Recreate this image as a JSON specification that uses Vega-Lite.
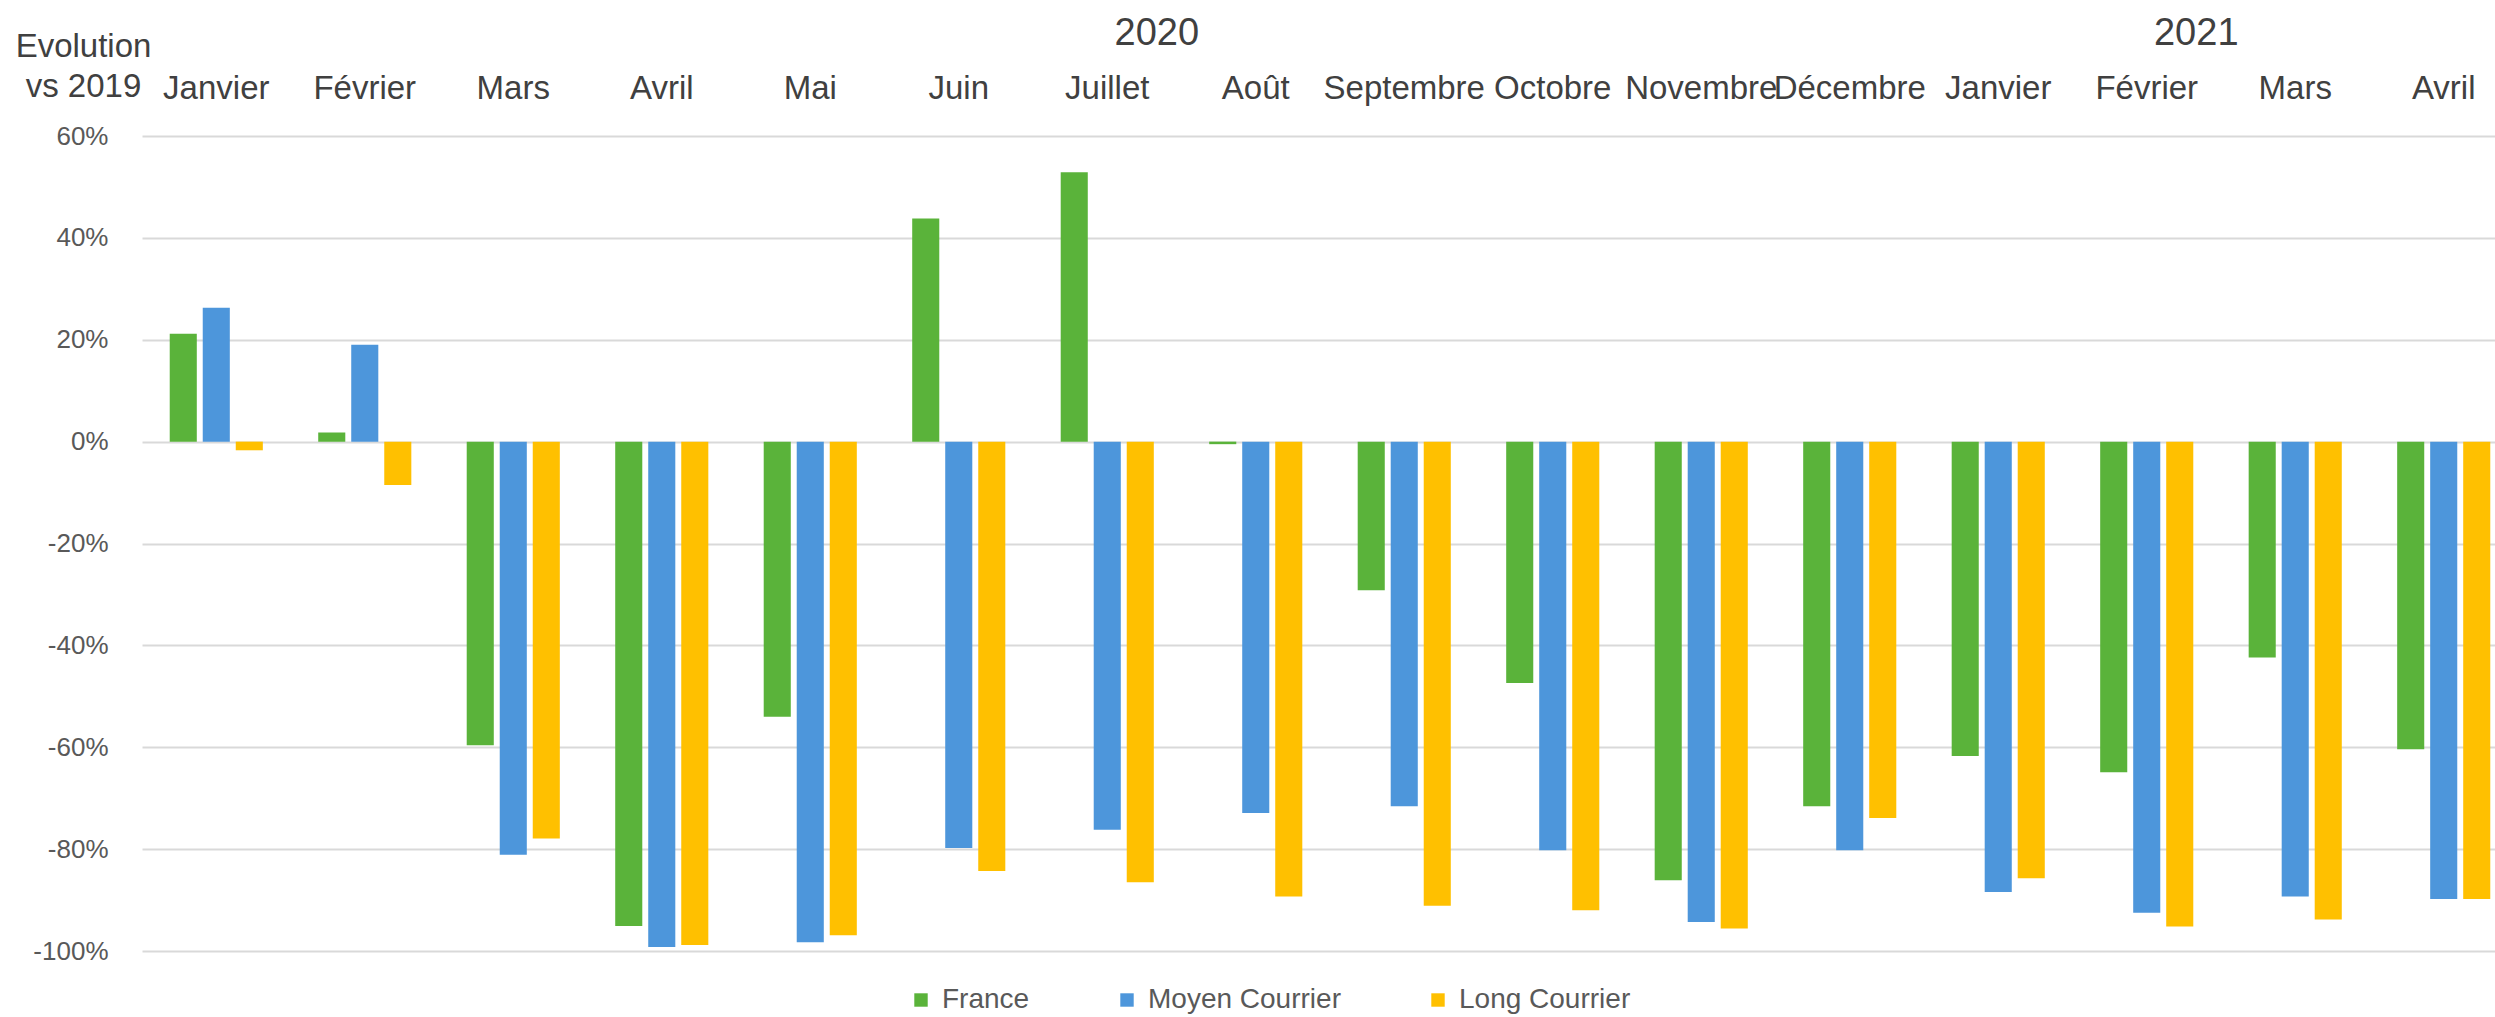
{
  "$schema": "https://vega.github.io/schema/vega-lite/v6.json",
  "width": 2353,
  "height": 815,
  "autosize": {"type": "none"},
  "padding": {"left": 142, "top": 136, "right": 0, "bottom": 66},
  "background": "white",
  "config": {"view": {"stroke": null}, "font": "Liberation Sans"},
  "datasets": {
    "evol": [
      {"mois": "Janvier 2020", "serie": "France", "v": 0.212},
      {"mois": "Janvier 2020", "serie": "Moyen Courrier", "v": 0.263},
      {"mois": "Janvier 2020", "serie": "Long Courrier", "v": -0.017},
      {"mois": "Février 2020", "serie": "France", "v": 0.018},
      {"mois": "Février 2020", "serie": "Moyen Courrier", "v": 0.19},
      {"mois": "Février 2020", "serie": "Long Courrier", "v": -0.085},
      {"mois": "Mars 2020", "serie": "France", "v": -0.596},
      {"mois": "Mars 2020", "serie": "Moyen Courrier", "v": -0.811},
      {"mois": "Mars 2020", "serie": "Long Courrier", "v": -0.779},
      {"mois": "Avril 2020", "serie": "France", "v": -0.951},
      {"mois": "Avril 2020", "serie": "Moyen Courrier", "v": -0.992},
      {"mois": "Avril 2020", "serie": "Long Courrier", "v": -0.988},
      {"mois": "Mai 2020", "serie": "France", "v": -0.54},
      {"mois": "Mai 2020", "serie": "Moyen Courrier", "v": -0.983},
      {"mois": "Mai 2020", "serie": "Long Courrier", "v": -0.969},
      {"mois": "Juin 2020", "serie": "France", "v": 0.438},
      {"mois": "Juin 2020", "serie": "Moyen Courrier", "v": -0.798},
      {"mois": "Juin 2020", "serie": "Long Courrier", "v": -0.843},
      {"mois": "Juillet 2020", "serie": "France", "v": 0.529},
      {"mois": "Juillet 2020", "serie": "Moyen Courrier", "v": -0.762},
      {"mois": "Juillet 2020", "serie": "Long Courrier", "v": -0.865},
      {"mois": "Août 2020", "serie": "France", "v": -0.005},
      {"mois": "Août 2020", "serie": "Moyen Courrier", "v": -0.729},
      {"mois": "Août 2020", "serie": "Long Courrier", "v": -0.893},
      {"mois": "Septembre 2020", "serie": "France", "v": -0.292},
      {"mois": "Septembre 2020", "serie": "Moyen Courrier", "v": -0.716},
      {"mois": "Septembre 2020", "serie": "Long Courrier", "v": -0.911},
      {"mois": "Octobre 2020", "serie": "France", "v": -0.474},
      {"mois": "Octobre 2020", "serie": "Moyen Courrier", "v": -0.802},
      {"mois": "Octobre 2020", "serie": "Long Courrier", "v": -0.92},
      {"mois": "Novembre 2020", "serie": "France", "v": -0.861},
      {"mois": "Novembre 2020", "serie": "Moyen Courrier", "v": -0.943},
      {"mois": "Novembre 2020", "serie": "Long Courrier", "v": -0.956},
      {"mois": "Décembre 2020", "serie": "France", "v": -0.716},
      {"mois": "Décembre 2020", "serie": "Moyen Courrier", "v": -0.802},
      {"mois": "Décembre 2020", "serie": "Long Courrier", "v": -0.739},
      {"mois": "Janvier 2021", "serie": "France", "v": -0.617},
      {"mois": "Janvier 2021", "serie": "Moyen Courrier", "v": -0.884},
      {"mois": "Janvier 2021", "serie": "Long Courrier", "v": -0.857},
      {"mois": "Février 2021", "serie": "France", "v": -0.649},
      {"mois": "Février 2021", "serie": "Moyen Courrier", "v": -0.925},
      {"mois": "Février 2021", "serie": "Long Courrier", "v": -0.952},
      {"mois": "Mars 2021", "serie": "France", "v": -0.424},
      {"mois": "Mars 2021", "serie": "Moyen Courrier", "v": -0.893},
      {"mois": "Mars 2021", "serie": "Long Courrier", "v": -0.938},
      {"mois": "Avril 2021", "serie": "France", "v": -0.604},
      {"mois": "Avril 2021", "serie": "Moyen Courrier", "v": -0.898},
      {"mois": "Avril 2021", "serie": "Long Courrier", "v": -0.898}
    ],
    "annees": [
      {"mois": "Juillet 2020", "annee": "2020"},
      {"mois": "Février 2021", "annee": "2021"}
    ]
  },
  "layer": [
    {
      "data": {"name": "evol"},
      "mark": {"type": "bar"},
      "encoding": {
        "x": {
          "field": "mois",
          "type": "nominal",
          "scale": {
            "domain": ["Janvier 2020", "Février 2020", "Mars 2020", "Avril 2020", "Mai 2020", "Juin 2020", "Juillet 2020", "Août 2020", "Septembre 2020", "Octobre 2020", "Novembre 2020", "Décembre 2020", "Janvier 2021", "Février 2021", "Mars 2021", "Avril 2021"],
            "range": [0, 2376],
            "paddingInner": 0.333,
            "paddingOuter": 0.1667
          },
          "axis": {
            "orient": "top",
            "title": null,
            "domain": false,
            "ticks": false,
            "grid": false,
            "labelAngle": 0,
            "labelExpr": "split(datum.value, ' ')[0]",
            "labelFontSize": 33,
            "labelColor": "#404040",
            "labelPadding": 31,
            "labelOverlap": false,
            "labelLimit": 300
          }
        },
        "xOffset": {
          "field": "serie",
          "type": "nominal",
          "scale": {"domain": ["France", "Moyen Courrier", "Long Courrier"], "paddingInner": 0.18, "paddingOuter": 0.09}
        },
        "y": {
          "field": "v",
          "type": "quantitative",
          "scale": {"domain": [-1, 0.6], "nice": false},
          "axis": {
            "title": ["Evolution", "vs 2019"],
            "titleAngle": 0,
            "titleAlign": "center",
            "titleBaseline": "top",
            "titleX": -59,
            "titleY": -106,
            "titleFontSize": 33,
            "titleFontWeight": "normal",
            "titleColor": "#404040",
            "titleLineHeight": 40,
            "values": [-1, -0.8, -0.6, -0.4, -0.2, 0, 0.2, 0.4, 0.6],
            "labelExpr": "round(datum.value * 100) + '%'",
            "labelFontSize": 26,
            "labelColor": "#595959",
            "labelPadding": 34,
            "domain": false,
            "ticks": false,
            "gridColor": "#D9D9D9",
            "gridWidth": 2
          }
        },
        "color": {
          "field": "serie",
          "type": "nominal",
          "scale": {"domain": ["France", "Moyen Courrier", "Long Courrier"], "range": ["#5AB33A", "#4D96DB", "#FFC000"]},
          "legend": {
            "orient": "none",
            "legendX": 765,
            "legendY": 850,
            "direction": "horizontal",
            "title": null,
            "labelFontSize": 28,
            "labelColor": "#595959",
            "labelLimit": 500,
            "symbolType": "square",
            "symbolSize": 180,
            "symbolStrokeWidth": 0,
            "columnPadding": 83,
            "labelOffset": 7
          }
        }
      }
    },
    {
      "data": {"name": "annees"},
      "mark": {"type": "text", "fontSize": 38, "color": "#404040", "baseline": "middle", "align": "center"},
      "encoding": {
        "x": {"field": "mois", "type": "nominal", "bandPosition": 1},
        "y": {"datum": 0.8, "type": "quantitative"},
        "text": {"field": "annee", "type": "nominal"}
      }
    }
  ]
}
